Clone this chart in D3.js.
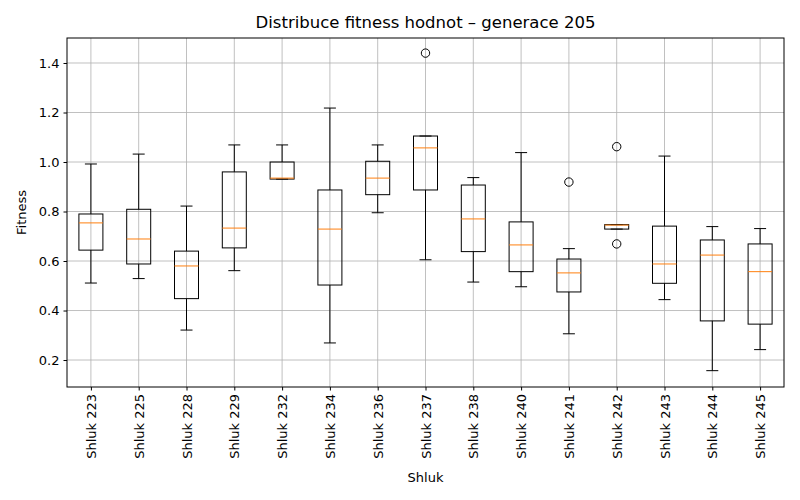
<!DOCTYPE html><html><head><meta charset="utf-8"><script src="https://cdn.jsdelivr.net/npm/d3@7"></script>
<style>body{margin:0;background:#fff}text{font-family:"DejaVu Sans",sans-serif;fill:#000}</style></head><body>
<svg id="c" width="800" height="500"></svg>
<script>
const categories=["Shluk 223","Shluk 225","Shluk 228","Shluk 229","Shluk 232","Shluk 234","Shluk 236","Shluk 237","Shluk 238","Shluk 240","Shluk 241","Shluk 242","Shluk 243","Shluk 244","Shluk 245"];
const whiskLow=[0.511,0.529,0.321,0.561,0.931,0.269,0.795,0.605,0.515,0.496,0.306,0.729,0.444,0.157,0.242];
const q1=[0.644,0.588,0.448,0.653,0.931,0.503,0.868,0.887,0.638,0.557,0.475,0.729,0.510,0.358,0.345];
const median=[0.754,0.689,0.580,0.733,0.935,0.729,0.935,1.057,0.770,0.665,0.552,0.745,0.588,0.624,0.557];
const q3=[0.790,0.809,0.640,0.960,1.000,0.887,1.003,1.105,0.907,0.758,0.608,0.747,0.741,0.685,0.669];
const whiskHigh=[0.992,1.032,0.822,1.069,1.069,1.218,1.069,1.105,0.937,1.038,0.650,0.747,1.024,0.739,0.731];
const outliers=[[],[],[],[],[],[],[],[1.440],[],[],[0.919],[1.062,0.669],[],[],[]];
const yTicks=[0.2,0.4,0.6,0.8,1.0,1.2,1.4];
const L=67,R=784,T=38,B=387;
const svg=d3.select("#c");
const x=d3.scaleLinear().domain([0.5,15.5]).range([L,R]);
const y=d3.scaleLinear().domain([0.091,1.501]).range([B,T]);
const g=svg.append("g");
// grid
g.selectAll(".gx").data(categories).join("line").attr("x1",(d,i)=>x(i+1)).attr("x2",(d,i)=>x(i+1)).attr("y1",T).attr("y2",B).attr("stroke","#b0b0b0").attr("stroke-width",0.8);
g.selectAll(".gy").data(yTicks).join("line").attr("x1",L).attr("x2",R).attr("y1",d=>y(d)).attr("y2",d=>y(d)).attr("stroke","#b0b0b0").attr("stroke-width",0.8);
const bw=24;
categories.forEach((c,i)=>{
  const cx=x(i+1), s="#000";
  g.append("line").attr("x1",cx).attr("x2",cx).attr("y1",y(whiskLow[i])).attr("y2",y(q1[i])).attr("stroke",s);
  g.append("line").attr("x1",cx).attr("x2",cx).attr("y1",y(q3[i])).attr("y2",y(whiskHigh[i])).attr("stroke",s);
  [whiskLow[i],whiskHigh[i]].forEach(v=>g.append("line").attr("x1",cx-6).attr("x2",cx+6).attr("y1",y(v)).attr("y2",y(v)).attr("stroke",s));
  g.append("rect").attr("x",cx-bw/2).attr("width",bw).attr("y",y(q3[i])).attr("height",Math.max(0.5,y(q1[i])-y(q3[i]))).attr("fill","none").attr("stroke",s);
  g.append("line").attr("x1",cx-bw/2).attr("x2",cx+bw/2).attr("y1",y(median[i])).attr("y2",y(median[i])).attr("stroke","#ff7f0e");
  outliers[i].forEach(v=>g.append("circle").attr("cx",cx).attr("cy",y(v)).attr("r",4.2).attr("fill","none").attr("stroke",s));
});
svg.append("rect").attr("x",L).attr("y",T).attr("width",R-L).attr("height",B-T).attr("fill","none").attr("stroke","#000");
const ya=svg.append("g").attr("transform",`translate(${L},0)`).call(d3.axisLeft(y).tickValues(yTicks).tickFormat(d3.format(".1f")).tickSize(3.5).tickPadding(4));
ya.select(".domain").remove();ya.selectAll("text").style("font-size","13px").style("font-family","DejaVu Sans");
const xa=svg.append("g").attr("transform",`translate(0,${B})`).call(d3.axisBottom(x).tickValues(d3.range(1,16)).tickFormat(d=>categories[d-1]).tickSize(3.5));
xa.select(".domain").remove();
xa.selectAll("text").style("font-size","13px").style("font-family","DejaVu Sans").attr("transform","rotate(-90)").attr("text-anchor","end").attr("x",-7).attr("y",0).attr("dy","0.35em");
svg.append("text").attr("x",(L+R)/2).attr("y",28).attr("text-anchor","middle").style("font-size","16.5px").text("Distribuce fitness hodnot – generace 205");
svg.append("text").attr("x",(L+R)/2).attr("y",482).attr("text-anchor","middle").style("font-size","13px").text("Shluk");
svg.append("text").attr("transform",`translate(26,${(T+B)/2}) rotate(-90)`).attr("text-anchor","middle").style("font-size","13px").text("Fitness");
</script></body></html>
